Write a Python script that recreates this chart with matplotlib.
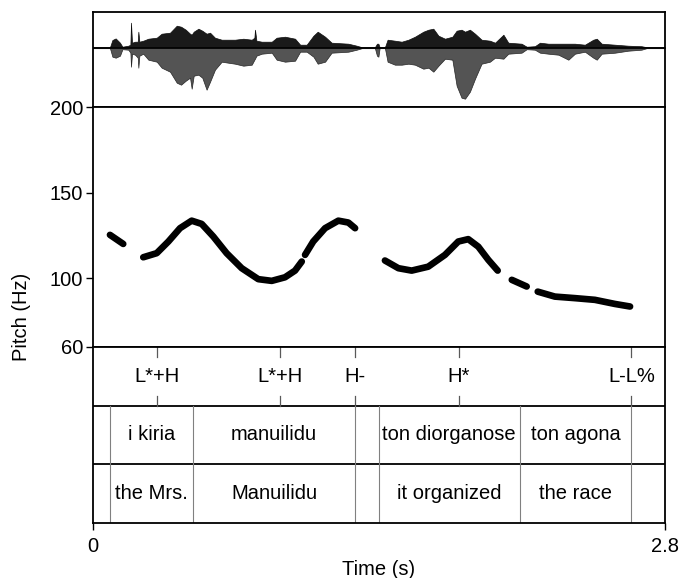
import numpy as np
import matplotlib
matplotlib.use("Agg")
import matplotlib.pyplot as plt

plt.rcParams['font.family'] = ['Liberation Sans', 'DejaVu Sans']
plt.rcParams['font.size'] = 14.5

# waveform envelope (arbitrary amplitude units)
wave_t = [0.0, 0.083, 0.095, 0.111, 0.132, 0.144, 0.173, 0.183, 0.186, 0.191, 0.206, 0.219, 0.222, 0.227,
          0.246, 0.271, 0.312, 0.336, 0.377, 0.410, 0.431, 0.454, 0.475, 0.483, 0.493, 0.516, 0.535,
          0.556, 0.573, 0.597, 0.630, 0.662, 0.695, 0.736, 0.777, 0.790, 0.793, 0.800, 0.826, 0.875,
          0.899, 0.940, 0.989, 1.014, 1.046, 1.079, 1.100, 1.136, 1.168, 1.250, 1.291, 1.316, 1.380,
          1.390, 1.397, 1.403, 1.429, 1.442, 1.478, 1.511, 1.544, 1.576, 1.617, 1.642, 1.666, 1.691,
          1.723, 1.759, 1.780, 1.804, 1.821, 1.845, 1.870, 1.902, 1.943, 1.968, 2.009, 2.033, 2.098,
          2.123, 2.163, 2.188, 2.229, 2.278, 2.327, 2.359, 2.408, 2.449, 2.466, 2.490, 2.555, 2.620,
          2.685, 2.710, 2.800]
wave_up = [0.5, 0.5, 7.7, 9.3, 5, 1, 2, 3, 25, 5, 6, 6, 16, 6,
           7, 9, 10, 14, 15, 22, 21, 18, 14, 13, 16, 19, 17,
           14, 15, 10, 8, 8, 8, 9, 8, 10, 18, 7, 6, 6,
           10, 11, 9, 3, 3, 12, 16, 11, 5, 4, 2, 0.5, 0.5,
           4, 4, 0.5, 0.5, 8, 7, 6, 8, 11, 16, 18, 19, 12,
           9, 11, 17, 18, 16, 18, 14, 8, 7, 5, 13, 5, 4,
           1, 1.5, 5, 4, 4, 4, 4, 3, 8, 9, 4, 3, 2,
           1.5, 0.5, 0.5]
wave_dn = [-0.5, -0.5, -9, -10, -8, -1.5, -2, -5, -19, -6, -7, -10, -20, -8,
           -6, -12, -14, -20, -24, -35, -37, -33, -30, -41, -28, -27, -30,
           -42, -34, -22, -14, -15, -16, -18, -17, -12, -11, -8, -6, -5,
           -12, -14, -13, -4, -4, -9, -16, -14, -5, -4, -2, -0.5, -0.5,
           -8, -9, -0.5, -0.5, -14, -17, -17, -16, -17, -21, -20, -24, -18,
           -11, -12, -38, -50, -51, -44, -31, -16, -14, -10, -11, -6, -5,
           -1.5, -2, -5, -6, -7, -12, -6, -4, -10, -12, -6, -5, -3,
           -2, -0.5, -0.5]

# pitch track (Hz), NaN marks a break in the contour
pitch_t = [0.083, 0.148, np.nan,
           0.246, 0.312, 0.369, 0.426, 0.483, 0.532, 0.589, 0.654, 0.728, 0.809, 0.875, 0.940, 0.989, 1.022, np.nan,
           1.038, 1.078, 1.136, 1.201, 1.250, 1.283, np.nan,
           1.429, 1.495, 1.560, 1.641, 1.723, 1.788, 1.837, 1.886, 1.935, 1.981, np.nan,
           2.050, 2.123, np.nan,
           2.177, 2.261, 2.359, 2.457, 2.555, 2.629]
pitch_hz = [125.4, 120.1, np.nan,
            112.3, 114.7, 121.5, 129.3, 133.7, 131.8, 124.4, 114.7, 105.9, 99.5, 98.5, 100.6, 104.5, 109.8, np.nan,
            113.7, 121.5, 129.3, 133.7, 132.6, 129.3, np.nan,
            110.4, 105.9, 104.5, 106.8, 113.7, 121.5, 122.9, 118.5, 110.8, 104.5, np.nan,
            99.1, 95.2, np.nan,
            92.2, 89.3, 88.4, 87.4, 85.0, 83.5]

# ToBI tones
tone_t = [0.314, 0.915, 1.283, 1.790, 2.636]
tone_lab = ["L*+H", "L*+H", "H-", "H*", "L-L%"]

# word tier
word_bounds = [0.085, 0.490, 1.283, 1.398, 2.090, 2.636]
word_lab = ["i kiria", "manuilidu", "", "ton diorganose", "ton agona"]
gloss_lab = ["the Mrs.", "Manuilidu", "", "it organized", "the race"]

T_END = 2.8

fig = plt.figure(figsize=(6.82, 5.78), dpi=100)
L, R = 93 / 682, 665 / 682
def fy(px):
    return 1 - px / 578

ax_w = fig.add_axes([L, fy(107.3), R - L, fy(12) - fy(107.3)])
ax_p = fig.add_axes([L, fy(346.7), R - L, fy(107.3) - fy(346.7)])
ax_t = fig.add_axes([L, fy(523.3), R - L, fy(346.7) - fy(523.3)])

for ax in (ax_w, ax_p, ax_t):
    ax.set_xlim(0, T_END)
    for s in ax.spines.values():
        s.set_linewidth(1.3)

# waveform: dark above the baseline, greyer below
ax_w.fill_between(wave_t, 0, wave_up, color='0.1', lw=0.5, edgecolor='0.05')
ax_w.fill_between(wave_t, wave_dn, 0, color='0.33', lw=0.5, edgecolor='0.15')
ax_w.axhline(0, color='black', lw=1.2)
ax_w.set_ylim(-59.6, 35.7)
ax_w.set_xticks([])
ax_w.set_yticks([])

# pitch
ax_p.plot(pitch_t, pitch_hz, color='black', lw=4.8, solid_capstyle='round', solid_joinstyle='round')
ax_p.set_ylim(60, 200)
ax_p.set_yticks([60, 100, 150, 200])
ax_p.set_xticks([])
ax_p.tick_params(axis='y', length=5, width=1, pad=2, labelsize=14.5)

# tiers
ax_t.set_ylim(0, 3)
ax_t.set_yticks([])
ax_t.axhline(2, color='black', lw=1.3)
ax_t.axhline(1, color='black', lw=1.3)
for t, lab in zip(tone_t, tone_lab):
    ax_t.plot([t, t], [3, 2.83], color='0.35', lw=0.9)
    ax_t.plot([t, t], [2, 2.17], color='0.35', lw=0.9)
    ax_t.text(t, 2.5, lab, ha='center', va='center')
for b in word_bounds:
    ax_t.plot([b, b], [0, 2], color='0.5', lw=0.8)
for i in range(len(word_lab)):
    mid = (word_bounds[i] + word_bounds[i + 1]) / 2
    ax_t.text(mid, 1.5, word_lab[i], ha='center', va='center')
    ax_t.text(mid, 0.5, gloss_lab[i], ha='center', va='center')

ax_t.set_xticks([0, T_END])
ax_t.set_xticklabels(["0", "2.8"])
ax_t.tick_params(axis='x', length=5, width=1, pad=5, labelsize=14.5)
ax_t.set_xlabel("Time (s)", labelpad=3)

fig.text(22 / 682, fy(317), "Pitch (Hz)", rotation=90, ha='center', va='center')

fig.savefig("out.png", dpi=100)
